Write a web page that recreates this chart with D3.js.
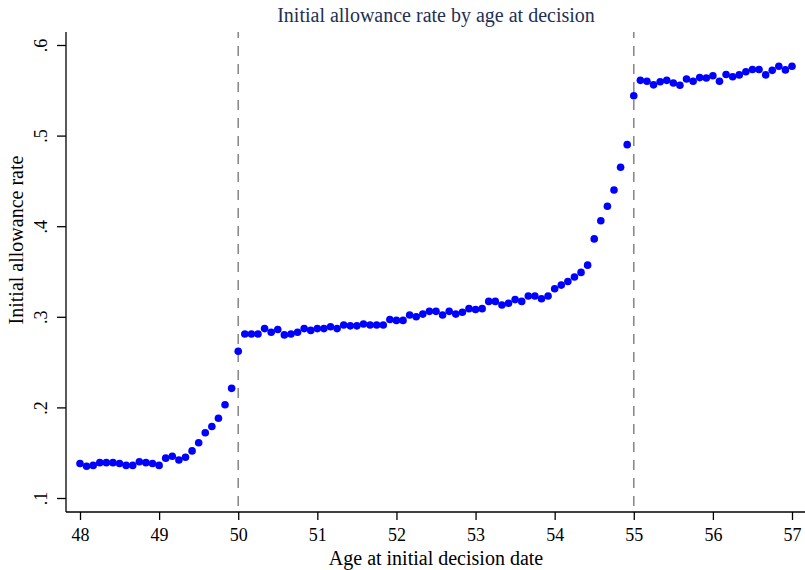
<!DOCTYPE html>
<html>
<head>
<meta charset="utf-8">
<script src="https://cdn.jsdelivr.net/npm/d3@7"></script>
<style>
  html, body { margin: 0; padding: 0; background: #fff; }
  svg { display: block; }
  text { font-family: "Liberation Serif", "DejaVu Serif", serif; }
</style>
</head>
<body>
<div id="chart"></div>
<script>
// Age at initial decision (monthly bins)
const ages = [
  48.0000, 48.0833, 48.1667, 48.2500, 48.3333, 48.4167, 48.5000, 48.5833, 48.6667, 48.7500, 48.8333, 48.9167,
  49.0000, 49.0833, 49.1667, 49.2500, 49.3333, 49.4167, 49.5000, 49.5833, 49.6667, 49.7500, 49.8333, 49.9167,
  50.0000, 50.0833, 50.1667, 50.2500, 50.3333, 50.4167, 50.5000, 50.5833, 50.6667, 50.7500, 50.8333, 50.9167,
  51.0000, 51.0833, 51.1667, 51.2500, 51.3333, 51.4167, 51.5000, 51.5833, 51.6667, 51.7500, 51.8333, 51.9167,
  52.0000, 52.0833, 52.1667, 52.2500, 52.3333, 52.4167, 52.5000, 52.5833, 52.6667, 52.7500, 52.8333, 52.9167,
  53.0000, 53.0833, 53.1667, 53.2500, 53.3333, 53.4167, 53.5000, 53.5833, 53.6667, 53.7500, 53.8333, 53.9167,
  54.0000, 54.0833, 54.1667, 54.2500, 54.3333, 54.4167, 54.5000, 54.5833, 54.6667, 54.7500, 54.8333, 54.9167,
  55.0000, 55.0833, 55.1667, 55.2500, 55.3333, 55.4167, 55.5000, 55.5833, 55.6667, 55.7500, 55.8333, 55.9167,
  56.0000, 56.0833, 56.1667, 56.2500, 56.3333, 56.4167, 56.5000, 56.5833, 56.6667, 56.7500, 56.8333, 56.9167,
  57.0000
];

// Initial allowance rate
const rates = [
  0.138, 0.135, 0.136, 0.139, 0.139, 0.139, 0.138, 0.136, 0.136, 0.140, 0.139, 0.138,
  0.136, 0.144, 0.146, 0.142, 0.145, 0.152, 0.161, 0.172, 0.179, 0.188, 0.203, 0.221,
  0.262, 0.281, 0.281, 0.281, 0.287, 0.283, 0.286, 0.280, 0.281, 0.283, 0.287, 0.285,
  0.287, 0.287, 0.289, 0.287, 0.291, 0.290, 0.290, 0.292, 0.291, 0.291, 0.291, 0.297,
  0.296, 0.296, 0.302, 0.300, 0.303, 0.306, 0.306, 0.302, 0.306, 0.303, 0.305, 0.309,
  0.308, 0.309, 0.317, 0.317, 0.313, 0.315, 0.319, 0.317, 0.323, 0.323, 0.320, 0.323,
  0.331, 0.335, 0.339, 0.344, 0.349, 0.357, 0.386, 0.406, 0.422, 0.440, 0.465, 0.490,
  0.544, 0.561, 0.560, 0.556, 0.5595, 0.561, 0.558, 0.5555, 0.5625, 0.560, 0.564, 0.5635,
  0.566, 0.560, 0.5675, 0.565, 0.567, 0.5705, 0.573, 0.573, 0.567, 0.572, 0.5765, 0.5725,
  0.5765
];

const xTicks = [48, 49, 50, 51, 52, 53, 54, 55, 56, 57];
const yTicks = [0.1, 0.2, 0.3, 0.4, 0.5, 0.6];
const yTickLabels = [".1", ".2", ".3", ".4", ".5", ".6"];
const cutoffs = [50, 55];

const titleText = "Initial allowance rate by age at decision";
const xLabel = "Age at initial decision date";
const yLabel = "Initial allowance rate";

const W = 805, H = 570;
const svg = d3.select("#chart").append("svg").attr("width", W).attr("height", H);

const x = d3.scaleLinear().domain([48, 57]).range([80, 792]);
const y = d3.scaleLinear().domain([0.1, 0.6]).range([498, 45]);

const axisLeftX = 66, axisBottomY = 512, plotTop = 32;

// Title
svg.append("text")
  .attr("x", 436).attr("y", 22)
  .attr("text-anchor", "middle")
  .attr("font-size", 20)
  .attr("fill", "#1f2f55")
  .text(titleText);

// Cutoff dashed lines
svg.selectAll("line.cut").data(cutoffs).enter().append("line")
  .attr("class", "cut")
  .attr("x1", d => x(d)).attr("x2", d => x(d))
  .attr("y1", plotTop).attr("y2", axisBottomY)
  .attr("stroke", "#8a8a8a").attr("stroke-width", 1.6)
  .attr("stroke-dasharray", "10,8")
  .attr("stroke-dashoffset", 4);

// X axis
const xAxis = d3.axisBottom(x).tickValues(xTicks).tickSize(8).tickPadding(8).tickFormat(d3.format("d"));
const gx = svg.append("g").attr("transform", `translate(0,${axisBottomY})`).call(xAxis);
gx.select(".domain").remove();
gx.append("line").attr("x1", axisLeftX).attr("x2", W).attr("y1", 0).attr("y2", 0)
  .attr("stroke", "#000").attr("stroke-width", 1.3);
gx.selectAll(".tick line").attr("stroke", "#000").attr("stroke-width", 1.3);
gx.selectAll(".tick text").attr("font-size", 18).attr("fill", "#000")
  .attr("font-family", "Liberation Serif, DejaVu Serif, serif");

// Y axis
const yAxis = d3.axisLeft(y).tickValues(yTicks).tickSize(9).tickPadding(0)
  .tickFormat((d, i) => yTickLabels[i]);
const gy = svg.append("g").attr("transform", `translate(${axisLeftX},0)`).call(yAxis);
gy.select(".domain").remove();
gy.append("line").attr("x1", 0).attr("x2", 0).attr("y1", plotTop).attr("y2", axisBottomY)
  .attr("stroke", "#000").attr("stroke-width", 1.3);
gy.selectAll(".tick line").attr("stroke", "#000").attr("stroke-width", 1.3);
gy.selectAll(".tick text")
  .attr("font-size", 18).attr("fill", "#000")
  .attr("font-family", "Liberation Serif, DejaVu Serif, serif")
  .attr("x", null)
  .attr("text-anchor", "middle")
  .attr("transform", "translate(-25,0) rotate(-90)")
  .attr("y", 0)
  .attr("dy", "0.35em");

// Axis titles
svg.append("text")
  .attr("x", 436).attr("y", 565)
  .attr("text-anchor", "middle")
  .attr("font-size", 20).attr("fill", "#000")
  .text(xLabel);

svg.append("text")
  .attr("transform", `translate(23,240) rotate(-90)`)
  .attr("text-anchor", "middle")
  .attr("font-size", 20).attr("fill", "#000")
  .text(yLabel);

// Points
const data = ages.map((a, i) => ({ age: a, rate: rates[i] }));
svg.append("g").selectAll("circle").data(data).enter().append("circle")
  .attr("cx", d => x(d.age))
  .attr("cy", d => y(d.rate))
  .attr("r", 3.8)
  .attr("fill", "#0000ff");
</script>
</body>
</html>
